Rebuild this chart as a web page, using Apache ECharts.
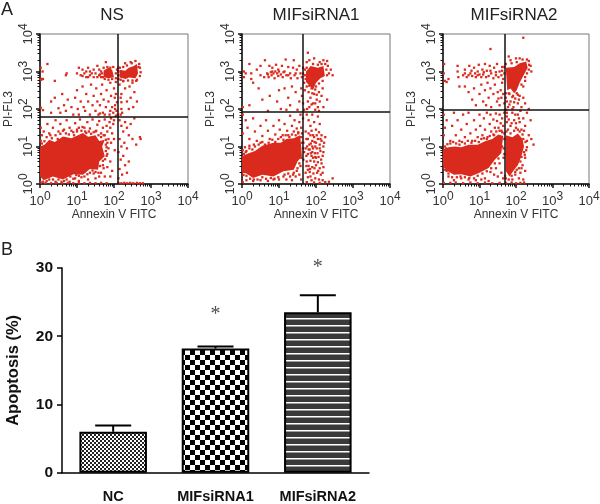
<!DOCTYPE html>
<html><head><meta charset="utf-8">
<style>html,body{margin:0;padding:0;background:#fff}#c{width:600px;height:504px}</style>
<script src="https://cdn.jsdelivr.net/npm/echarts@6/dist/echarts.min.js"></script>
</head><body><div id="c"></div>
<script>
// ---- Panel B values
const barCategories = ['NC','MIFsiRNA1','MIFsiRNA2'];
const barValues = [6.0,18.2,23.5];
const barErrorTops = [6.9,18.5,26.0];
const starValues = [null,23.2,30.0];
// ---- Panel A: quadrant gates (intensity)
const gateX = [130,45,49];
const gateY = [61,83,98];
const panelTitles = ['NS','MIFsiRNA1','MIFsiRNA2'];
// ---- Panel A: events, as [log10 Annexin, log10 PI]
const nsDense = [[[0,1.0],[.12,1.05],[.25,1.18],[.4,1.12],[.62,1.27],[.85,1.22],[1.16,1.36],[1.3,1.26],[1.5,1.3],[1.6,1.15],[1.75,1.18],[1.68,1.0],[1.75,.74],[1.6,.6],[1.57,.38],[1.35,.4],[1.16,.25],[.9,.26],[.62,.12],[.35,.2],[.1,.1],[0,.2]],
 [[2.15,3.05],[2.3,3.02],[2.4,3.1],[2.52,3.14],[2.62,3.2],[2.65,2.95],[2.58,2.82],[2.4,2.84],[2.32,2.8],[2.15,2.84]],[[1.72,3.03],[1.85,3.1],[1.95,3.05],[2.0,2.85],[1.85,2.82],[1.72,2.85]]];
const nsDots = [[.02,3.1],[.02,2.8],[.03,2.78],[.05,2.8],[.07,3.0],[.2,3.2],[.08,2.8],[.4,2.75],[.7,2.9],[.72,2.95],[1.0,2.95],[1.05,3.1],[1.1,2.9],[1.15,3.05],[1.2,2.95],[1.25,3.0],[1.3,2.85],[1.3,3.1],[1.35,3.0],[1.4,2.95],[1.45,2.85],[1.45,3.05],[1.5,2.95],[1.55,3.15],[1.55,2.85],[1.6,2.9],[1.65,3.0],[1.65,2.85],[1.7,2.85],[1.78,3.25],[1.82,3.12],[1.9,3.1],[2.05,2.95],[2.05,2.82],[2.08,3.05],[.02,2.03],[.08,1.97],[.3,1.9],[.3,2.2],[.4,2.3],[.5,2.02],[.55,1.9],[.6,2.4],[.65,2.1],[.7,1.95],[.75,2.25],[.85,2.05],[.9,1.85],[.95,2.3],[1.0,2.5],[1.02,2.0],[1.05,1.85],[1.1,2.2],[1.15,2.6],[1.18,2.05],[1.22,1.95],[1.25,2.4],[1.3,2.2],[1.35,1.85],[1.38,2.65],[1.42,2.1],[1.45,2.35],[1.5,1.95],[1.52,2.55],[1.55,2.2],[1.58,1.85],[1.62,2.1],[1.65,2.4],[1.68,2.65],[1.7,1.9],[1.72,2.25],[1.78,2.05],[1.8,2.5],[1.85,2.2],[1.88,1.85],[1.9,2.7],[1.92,2.35],[1.95,2.05],[1.98,1.9],[2.0,2.55],[2.03,2.1],[2.03,2.0],[2.05,2.4],[2.07,1.95],[2.15,2.65],[2.18,2.3],[2.2,2.4],[2.2,2.0],[2.22,1.9],[2.25,2.75],[2.3,2.55],[2.35,2.2],[2.4,2.0],[2.42,2.6],[2.45,2.3],[2.5,2.7],[2.52,2.05],[2.55,2.45],[2.6,2.75],[2.62,2.2],[2.7,3.1],[2.72,2.98],[2.68,3.2],[2.12,2.9],[2.12,3.1],[2.3,3.22],[2.45,3.25],[.02,1.5],[.05,1.3],[.02,1.15],[.1,1.4],[.2,1.6],[.25,1.35],[.35,1.5],[.42,1.7],[.5,1.4],[.55,1.6],[.65,1.45],[.72,1.7],[.8,1.5],[.9,1.38],[.95,1.62],[1.0,1.45],[1.08,1.72],[1.15,1.52],[1.22,1.4],[1.28,1.65],[1.35,1.48],[1.42,1.72],[1.5,1.4],[1.55,1.58],[1.6,1.68],[1.65,1.35],[1.7,1.5],[1.75,1.3],[1.75,1.72],[1.8,1.55],[1.82,1.4],[1.85,1.2],[1.88,1.65],[1.9,1.5],[1.92,1.75],[1.95,1.35],[1.98,1.6],[2.0,1.2],[2.02,.9],[1.85,.95],[1.8,.75],[1.9,.6],[1.82,.45],[1.7,.5],[1.65,.3],[1.45,.28],[1.5,.15],[1.3,.12],[1.2,.2],[1.05,.08],[.95,.15],[.8,.06],[1.78,1.05],[1.92,1.1],[1.6,.2],[1.75,.2],[1.9,.2],[1.95,.35],[.02,.04],[.15,.03],[.3,.02],[.45,.03],[.6,.02],[.75,.03],[.9,.02],[1.05,.03],[1.2,.02],[1.35,.03],[1.5,.02],[1.65,.03],[1.8,.02],[2.12,.03],[2.2,.02],[2.28,.03],[2.36,.02],[2.44,.03],[2.52,.02],[2.62,.03],[2.7,.02],[2.78,.02],[2.15,1.7],[2.2,1.55],[2.25,1.4],[2.3,1.65],[2.35,1.5],[2.4,1.3],[2.45,1.6],[2.5,1.2],[2.55,1.75],[2.6,1.05],[2.7,1.25],[2.15,1.2],[2.2,1.0],[2.28,1.1],[2.35,.95],[2.12,.85],[2.18,.65],[2.25,.75],[2.3,.5],[2.15,.4],[2.22,.25],[2.4,.6],[2.12,.15],[2.35,.3],[2.72,1.2]];
const nsRim = [[.05,1.08],[.12,1.14],[.18,1.25],[.28,1.3],[.32,1.22],[.42,1.3],[.48,1.2],[.55,1.34],[.62,1.42],[.7,1.35],[.78,1.32],[.85,1.42],[.92,1.3],[1.0,1.4],[1.05,1.5],[1.12,1.42],[1.2,1.5],[1.25,1.36],[1.32,1.4],[1.38,1.34],[1.45,1.38],[1.52,1.42],[1.58,1.3],[1.65,1.25],[1.72,1.3],[1.78,1.18],[1.82,1.1],[1.8,.98],[1.78,.88],[1.82,.8],[1.76,.66],[1.7,.62],[1.72,.42],[1.62,.48],[1.58,.3],[1.5,.32],[1.42,.36],[1.35,.3],[1.28,.26],[1.2,.32],[1.12,.18],[1.05,.22],[.98,.24],[.9,.14],[.82,.2],[.72,.12],[.65,.08],[.58,.06],[.5,.12],[.42,.06],[.35,.12],[.25,.12],[.18,.08],[.08,.06],[1.9,3.0],[1.68,2.95],[1.75,2.8],[1.85,2.78],[1.95,2.8],[1.72,3.1],[1.98,3.12],[1.6,3.05],[1.62,2.92],[1.15,2.88],[1.25,2.85],[1.35,2.9],[2.12,3.0],[2.12,2.8],[2.16,3.1],[2.25,3.12],[2.35,3.16],[2.48,3.22],[2.58,3.28],[2.66,3.12],[2.7,2.88],[2.62,2.78],[2.5,2.76],[2.38,2.76],[2.25,2.74],[2.18,2.78],[2.05,2.72],[2.02,2.3],[2.08,2.18],[2.05,1.82],[2.2,2.18],[2.1,1.85],[2.0,1.7],[2.18,1.85],[1.9,1.95],[1.75,1.85],[1.62,1.88]];
const si1Dense = [[[0,.74],[.18,.82],[.35,.88],[.55,1.02],[.85,1.1],[1.05,1.1],[1.2,1.2],[1.4,1.22],[1.57,1.3],[1.6,1.0],[1.62,.74],[1.5,.6],[1.4,.38],[1.12,.34],[.85,.2],[.55,.25],[.3,.16],[.12,.28],[0,.3]],
 [[1.73,3.0],[1.8,3.08],[1.85,3.15],[2.05,3.1],[2.2,3.15],[2.24,2.88],[2.12,2.82],[2.0,2.7],[1.92,2.5],[1.85,2.6],[1.73,2.72]]];
const si1Dots = [[.05,3.0],[.05,2.85],[.02,2.05],[.1,2.95],[.2,3.2],[.25,2.8],[.25,2.95],[.3,2.7],[.4,3.05],[.5,2.9],[.5,3.15],[.6,2.85],[.62,3.3],[.68,2.95],[.7,2.92],[.74,3.15],[.78,2.98],[.8,2.9],[.82,3.1],[.85,2.95],[.88,2.82],[.9,3.0],[.92,3.18],[.95,2.95],[.98,2.88],[1.0,3.0],[1.05,2.92],[1.08,3.15],[1.1,2.85],[1.15,3.0],[1.18,3.32],[1.2,2.9],[1.25,3.12],[1.3,2.95],[1.32,2.82],[1.38,3.1],[1.4,3.3],[1.42,2.9],[1.48,3.05],[1.5,2.82],[1.55,3.15],[1.58,2.95],[1.62,2.85],[1.65,3.1],[1.7,2.9],[1.68,2.7],[1.75,3.25],[1.78,3.5],[1.82,3.3],[1.95,3.35],[2.1,3.25],[2.2,3.3],[2.32,3.15],[2.3,3.28],[2.4,3.05],[2.35,2.95],[2.45,2.9],[.2,2.1],[.45,2.55],[.55,2.25],[.7,1.95],[.75,2.35],[.95,2.2],[1.0,2.5],[1.05,2.0],[1.15,2.55],[1.2,1.98],[1.25,2.3],[1.3,2.1],[1.35,2.6],[1.45,2.45],[1.5,1.98],[1.55,2.2],[1.6,2.55],[1.62,2.35],[1.65,2.15],[1.68,1.98],[1.7,2.5],[1.78,2.2],[1.8,2.45],[1.82,2.05],[1.85,2.3],[1.88,2.55],[1.92,2.15],[1.95,2.4],[1.98,1.98],[2.0,2.6],[2.02,2.25],[2.05,2.05],[2.08,2.45],[2.1,2.2],[2.15,2.35],[2.18,2.55],[2.2,2.05],[2.3,2.25],[.02,1.85],[.1,1.7],[.15,1.5],[.02,1.35],[.2,1.2],[.3,1.75],[.35,1.4],[.4,1.15],[.5,1.55],[.55,1.28],[.65,1.7],[.7,1.42],[.75,1.2],[.85,1.55],[.9,1.32],[1.0,1.7],[1.02,1.45],[1.1,1.3],[1.15,1.6],[1.22,1.42],[1.25,1.3],[1.3,1.82],[1.35,1.55],[1.4,1.4],[1.42,1.7],[1.48,1.48],[1.52,1.35],[1.58,1.85],[1.55,1.65],[1.6,1.5],[1.62,1.35],[1.65,1.75],[1.62,1.1],[1.65,.95],[1.6,.7],[1.55,.55],[1.5,.42],[1.4,.3],[1.3,.2],[1.15,.25],[1.0,.12],[.85,.12],[.7,.08],[.5,.1],[.3,.08],[.12,.1],[1.2,.12],[1.35,.1],[1.45,.2],[1.55,.25],[1.6,.12],[.02,.05],[.02,.9],[.08,.98],[.02,.65],[.1,.85],[.2,1.02],[.32,1.05],[.5,1.1],[1.75,1.85],[1.8,1.7],[1.85,1.55],[1.9,1.85],[1.95,1.65],[2.0,1.45],[2.05,1.8],[2.1,1.6],[2.15,1.3],[1.72,1.4],[1.78,1.2],[1.82,1.05],[1.85,1.3],[1.9,1.15],[1.95,1.25],[2.0,1.1],[2.05,1.2],[2.1,1.05],[2.15,1.15],[2.2,1.0],[2.25,1.25],[1.72,.95],[1.78,.8],[1.83,.92],[1.88,.75],[1.92,.95],[1.97,.82],[2.02,.95],[2.07,.72],[2.12,.88],[2.18,.75],[1.75,.6],[1.8,.48],[1.85,.62],[1.9,.45],[1.95,.6],[2.0,.5],[2.05,.58],[2.1,.42],[2.15,.55],[2.2,.45],[1.72,.3],[1.78,.18],[1.83,.32],[1.88,.1],[1.93,.28],[1.98,.15],[2.03,.3],[2.08,.12],[2.13,.25],[2.18,.1],[2.25,.05],[1.75,.05],[1.95,.04],[2.1,.03],[2.45,.15],[2.35,.06],[1.9,1.0],[2.0,.7],[1.85,.2],[1.9,.85]];
const si1Rim = [[.05,.8],[.12,.88],[.2,.95],[.28,.92],[.35,1.0],[.45,1.05],[.55,1.12],[.62,1.05],[.72,1.1],[.82,1.18],[.9,1.12],[.98,1.2],[1.05,1.25],[1.12,1.18],[1.18,1.3],[1.28,1.25],[1.35,1.32],[1.45,1.3],[1.52,1.38],[1.6,1.25],[1.66,1.1],[1.68,.85],[1.66,.65],[1.58,.48],[1.48,.35],[1.38,.25],[1.25,.28],[1.12,.2],[.98,.18],[.88,.14],[.78,.16],[.65,.14],[.55,.18],[.42,.12],[.32,.12],[.22,.14],[.12,.22],[.04,.24],[.72,2.85],[.82,3.0],[.98,3.05],[1.12,2.98],[1.25,2.9],[1.45,2.95],[1.65,2.95],[1.7,3.05],[1.72,2.8],[1.75,3.1],[1.92,3.2],[2.05,3.18],[2.15,3.2],[2.25,3.2],[2.28,3.05],[2.3,2.9],[2.18,2.75],[2.08,2.68],[1.98,2.52],[2.02,2.38],[1.9,2.42],[1.82,2.62],[1.75,2.6],[1.76,2.0],[1.88,2.12],[1.98,2.15],[2.08,1.95],[1.74,1.2],[1.8,1.35],[1.88,1.42],[1.92,1.3],[2.02,1.3],[2.08,1.38],[2.12,1.2],[2.22,1.1],[1.76,1.0],[1.86,1.08],[1.98,1.0],[2.1,.95],[2.2,.85],[1.74,.75],[1.86,.82],[1.98,.72],[2.14,.65],[1.74,.48],[1.84,.4],[1.96,.42],[2.06,.35],[2.18,.3],[1.78,.38],[1.92,.7],[2.04,.82],[1.8,.92],[1.96,1.12]];
const si2Dense = [[[0,.92],[.15,.98],[.33,1.0],[.5,.98],[.7,1.05],[.95,1.05],[1.15,1.14],[1.35,1.2],[1.52,1.32],[1.65,1.28],[1.62,1.05],[1.6,.83],[1.42,.65],[1.25,.43],[1.0,.3],[.75,.2],[.5,.26],[.3,.25],[.12,.35],[0,.47]],
 [[1.72,3.1],[1.95,3.12],[2.1,3.22],[2.28,3.27],[2.32,3.1],[2.22,2.92],[2.1,2.7],[2.02,2.5],[1.95,2.42],[1.85,2.55],[1.76,2.5]],
 [[1.72,1.3],[1.9,1.25],[2.05,1.35],[2.18,1.2],[2.22,1.0],[2.15,.75],[2.05,.5],[1.95,.38],[1.82,.2],[1.75,.3],[1.72,.35]]];
const si2Dots = [[.02,2.95],[.05,2.75],[.1,2.72],[.15,2.8],[.03,3.2],[.4,3.15],[.4,3.0],[.42,2.85],[.45,2.6],[.55,2.9],[.6,3.05],[.65,2.85],[.7,2.9],[.72,3.15],[.75,2.95],[.8,2.88],[.85,3.1],[.88,2.95],[.9,2.85],[.95,3.0],[.98,3.18],[1.0,2.92],[1.05,2.85],[1.08,3.05],[1.1,2.92],[1.15,3.2],[1.18,2.85],[1.2,3.02],[1.25,2.88],[1.28,3.15],[1.3,3.6],[1.32,2.95],[1.38,2.82],[1.4,3.1],[1.45,2.9],[1.48,3.2],[1.52,2.85],[1.55,3.0],[1.6,2.9],[1.62,3.12],[1.65,2.8],[1.68,2.95],[1.8,3.4],[1.85,3.3],[2.0,3.35],[2.1,3.35],[2.4,3.15],[2.35,3.28],[2.42,3.0],[2.3,2.95],[2.25,2.75],[2.2,2.6],[2.2,3.9],[.6,2.6],[.7,2.45],[.8,2.25],[.85,2.55],[.9,2.1],[1.0,2.4],[1.05,2.65],[1.1,2.2],[1.15,2.5],[1.18,2.1],[1.22,2.7],[1.25,2.3],[1.3,2.55],[1.32,2.05],[1.38,2.4],[1.42,2.65],[1.48,2.2],[1.5,2.45],[1.52,2.28],[1.55,2.1],[1.58,2.5],[1.6,2.3],[1.62,2.7],[1.65,2.4],[1.68,2.15],[1.72,2.3],[1.78,2.05],[1.82,2.4],[1.85,2.2],[1.9,2.32],[1.93,2.05],[1.98,2.28],[2.02,2.42],[2.05,2.15],[2.1,2.35],[2.15,2.05],[2.2,2.3],[2.25,2.15],[2.35,2.0],[.02,1.85],[.1,1.7],[.05,1.5],[.02,1.3],[.2,1.15],[.25,1.55],[.3,1.9],[.35,1.3],[.4,1.7],[.45,1.15],[.5,1.45],[.55,1.85],[.6,1.25],[.65,1.6],[.7,1.9],[.75,1.35],[.8,1.15],[.85,1.7],[.9,1.45],[.95,1.25],[1.0,1.85],[1.02,1.55],[1.08,1.3],[1.12,1.75],[1.15,1.45],[1.2,1.9],[1.22,1.25],[1.28,1.6],[1.3,1.85],[1.32,1.4],[1.38,1.72],[1.4,1.3],[1.42,1.5],[1.45,1.88],[1.48,1.68],[1.52,1.5],[1.55,1.85],[1.58,1.62],[1.6,1.42],[1.62,1.75],[1.65,1.55],[1.68,1.9],[1.68,1.35],[1.62,1.0],[1.66,.7],[1.55,.55],[1.45,.42],[1.4,.25],[1.3,.32],[1.15,.15],[1.25,.08],[1.05,.12],[.9,.1],[.7,.12],[.5,.15],[.3,.1],[.15,.2],[1.5,.2],[1.6,.3],[1.65,.15],[.02,.03],[.2,.03],[.35,.04],[.55,.02],[.75,.04],[.95,.02],[1.15,.04],[1.35,.02],[1.55,.03],[1.72,.03],[1.88,.04],[2.0,.02],[2.12,.03],[2.22,.04],[.1,.35],[.02,.7],[.08,.95],[1.75,1.9],[1.8,1.72],[1.85,1.55],[1.9,1.9],[1.95,1.7],[2.0,1.5],[2.05,1.85],[2.1,1.65],[2.15,1.45],[2.2,1.75],[2.25,1.55],[2.3,1.9],[2.35,1.3],[2.42,1.2],[2.4,1.7],[2.48,1.05],[2.3,1.15],[2.28,.9],[2.25,.7],[2.18,.5],[2.12,.3],[1.98,.25],[2.08,.15],[1.78,1.45],[2.1,1.4],[2.2,1.2],[2.22,.85],[2.15,.72],[1.72,.15],[1.9,.12],[2.25,.35],[2.2,.12],[1.88,1.62],[1.98,1.85],[2.12,1.95],[1.75,1.65]];
const si2Rim = [[.05,1.0],[.12,1.06],[.2,1.08],[.28,1.12],[.36,1.08],[.45,1.05],[.52,1.12],[.6,1.08],[.68,1.15],[.78,1.1],[.88,1.15],[.98,1.12],[1.05,1.2],[1.12,1.22],[1.2,1.2],[1.28,1.28],[1.38,1.32],[1.46,1.4],[1.55,1.42],[1.62,1.38],[1.68,1.2],[1.66,.95],[1.68,.8],[1.52,.68],[1.42,.55],[1.32,.42],[1.2,.34],[1.08,.28],[.95,.22],[.85,.15],[.72,.16],[.6,.18],[.48,.2],[.38,.18],[.25,.18],[.15,.28],[.05,.38],[.6,2.95],[.78,3.02],[.95,2.9],[1.12,2.98],[1.3,3.02],[1.45,2.98],[1.62,3.02],[1.72,3.2],[1.68,3.12],[1.88,3.22],[2.02,3.25],[2.18,3.32],[2.3,3.32],[2.36,3.18],[2.35,3.05],[2.25,2.85],[2.15,2.65],[2.05,2.38],[1.92,2.35],[1.8,2.42],[1.72,2.42],[1.75,2.2],[1.95,2.18],[2.08,2.25],[1.82,2.12],[1.72,1.98],[1.9,2.0],[1.74,1.4],[1.85,1.35],[1.95,1.42],[2.05,1.45],[2.18,1.32],[2.26,1.12],[2.3,.98],[2.24,.78],[2.12,.6],[2.08,.42],[1.98,.32],[1.88,.22],[1.8,.12],[1.7,.22],[2.15,1.1],[2.02,.38],[2.15,.42],[1.75,1.8],[2.0,1.62],[2.22,1.42],[2.08,1.75]];

const F='"Liberation Sans",Arial,sans-serif', RED='#da2a1e';
const W=Math.pow.bind(null,10);
const toVal=p=>[W(p[0]),W(p[1])];
const supLabel=v=>'{b|10}{s|'+Math.round(Math.log10(v))+'}';
const rich={b:{fontFamily:F,fontSize:13,color:'#333'},s:{fontFamily:F,fontSize:12,color:'#333',padding:[0,0,9,0]}};
const panels=[{l:40,w:148,dots:nsDots.concat(nsRim),dense:nsDense,tc:112},{l:242,w:148,dots:si1Dots.concat(si1Rim),dense:si1Dense,tc:316},{l:443,w:146,dots:si2Dots.concat(si2Rim),dense:si2Dense,tc:514}];

function pattern(size,h,draw){const c=document.createElement('canvas');c.width=size;c.height=h;draw(c.getContext('2d'));return {image:c,repeat:'repeat'};}
const patNC=pattern(4,4,g=>{g.fillStyle='#fff';g.fillRect(0,0,4,4);g.fillStyle='#222';g.fillRect(0,0,2,2);g.fillRect(2,2,2,2);});
const patM1=pattern(10,10,g=>{g.fillStyle='#fff';g.fillRect(0,0,10,10);g.fillStyle='#000';g.fillRect(0,0,5,5);g.fillRect(5,5,5,5);});
const patM2=pattern(7,7,g=>{g.fillStyle='#3a3a3a';g.fillRect(0,0,7,7);g.fillStyle='#fff';g.fillRect(0,3,7,1.5);});
const patterns=[patNC,patM1,patM2];

const grids=[],xAxes=[],yAxes=[],series=[],titles=[];
panels.forEach((p,i)=>{
  grids.push({left:p.l,width:p.w,top:34,height:150,outerBoundsMode:'none',show:true,borderColor:'#777',borderWidth:1,backgroundColor:'transparent'});
  const ax={type:'log',logBase:10,min:1,max:10000,gridIndex:i,nameMoveOverlap:false,
    axisLine:{show:true,onZero:false,lineStyle:{color:'#111',width:1.5}},
    axisTick:{show:true,inside:false,length:4,lineStyle:{color:'#111',width:1.5}},
    minorTick:{show:true,splitNumber:9,length:2.5,lineStyle:{color:'#111',width:1}},
    splitLine:{show:false},minorSplitLine:{show:false}};
  xAxes.push({...ax,position:'bottom',name:'Annexin V FITC',nameLocation:'middle',nameGap:25,
    nameTextStyle:{fontFamily:F,fontSize:12,color:'#333'},
    axisLabel:{formatter:supLabel,rich,margin:7,hideOverlap:false,showMinLabel:true,showMaxLabel:true}});
  yAxes.push({...ax,position:'left',name:'PI-FL3',nameLocation:'middle',nameGap:25,
    nameTextStyle:{fontFamily:F,fontSize:12,color:'#333'},
    axisLabel:{formatter:supLabel,rich,rotate:90,margin:1,hideOverlap:false,showMinLabel:true,showMaxLabel:true}});
  series.push({type:'custom',xAxisIndex:i,yAxisIndex:i,coordinateSystem:'cartesian2d',silent:true,z:2,
    data:p.dense.map((_,k)=>[k]),clip:true,
    renderItem:(params,api)=>({type:'polygon',shape:{points:p.dense[api.value(0)].map(q=>api.coord(toVal(q)))},style:{fill:RED}})});
  series.push({type:'scatter',xAxisIndex:i,yAxisIndex:i,silent:true,z:3,symbol:'rect',symbolSize:2.3,
    itemStyle:{color:RED,opacity:1},data:p.dots.map(toVal),large:false,clip:true,
    markLine:{silent:true,symbol:'none',animation:false,label:{show:false},
      lineStyle:{color:'#111',width:1.5,type:'solid'},data:[{xAxis:gateX[i]},{yAxis:gateY[i]}]}});
  titles.push({text:panelTitles[i],left:p.tc,top:7,padding:0,textAlign:'center',textStyle:{fontFamily:F,fontSize:17,fontWeight:'normal',color:'#222'}});
});
// Panel B
grids.push({left:62,width:307,top:268,height:204.7,outerBoundsMode:'none'});
xAxes.push({type:'category',gridIndex:3,data:barCategories,
  axisLine:{lineStyle:{color:'#000',width:1.5}},axisTick:{alignWithLabel:true,length:6,lineStyle:{color:'#000',width:1.5}},
  axisLabel:{margin:17,fontFamily:F,fontSize:14.5,fontWeight:'bold',color:'#111',interval:0}});
yAxes.push({type:'value',gridIndex:3,min:0,max:30,interval:10,splitLine:{show:false},
  axisLine:{show:true,lineStyle:{color:'#000',width:1.5}},axisTick:{show:true,length:5,lineStyle:{color:'#000',width:1.5}},
  axisLabel:{margin:9,fontFamily:F,fontSize:15.5,fontWeight:'bold',color:'#111'},
  name:'Apoptosis (%)',nameLocation:'middle',nameGap:40,nameTextStyle:{fontFamily:F,fontSize:16.5,fontWeight:'bold',color:'#111'}});
series.push({type:'bar',xAxisIndex:3,yAxisIndex:3,barWidth:'66%',silent:true,z:3,
  data:barValues.map((v,i)=>({value:v,itemStyle:{color:patterns[i],borderColor:'#000',borderWidth:2}}))});
series.push({type:'custom',xAxisIndex:3,yAxisIndex:3,silent:true,z:2,data:barErrorTops.map((t,i)=>[i,barValues[i],t]),
  renderItem:(params,api)=>{const a=api.coord([api.value(0),api.value(1)]),b=api.coord([api.value(0),api.value(2)]);
    const st={stroke:'#000',lineWidth:2};
    return {type:'group',children:[{type:'line',shape:{x1:a[0],y1:a[1],x2:b[0],y2:b[1]},style:st},
      {type:'line',shape:{x1:b[0]-18,y1:b[1],x2:b[0]+18,y2:b[1]},style:st}]};}});
series.push({type:'scatter',xAxisIndex:3,yAxisIndex:3,silent:true,symbolSize:1,clip:false,itemStyle:{color:'transparent'},
  data:starValues.map((v,i)=>[i,v]).filter(d=>d[1]!==null),
  label:{show:true,position:'inside',formatter:'*',fontFamily:'"Liberation Serif",serif',fontSize:20,color:'#222'}});
titles.push({text:'A',left:1,top:1,padding:0,textStyle:{fontFamily:F,fontSize:18,fontWeight:'normal',color:'#222'}});
titles.push({text:'B',left:1,top:241,padding:0,textStyle:{fontFamily:F,fontSize:18,fontWeight:'normal',color:'#222'}});

const chart=echarts.init(document.getElementById('c'),null,{renderer:'canvas'});
chart.setOption({animation:false,backgroundColor:'#fff',title:titles,grid:grids,xAxis:xAxes,yAxis:yAxes,series});
</script></body></html>
